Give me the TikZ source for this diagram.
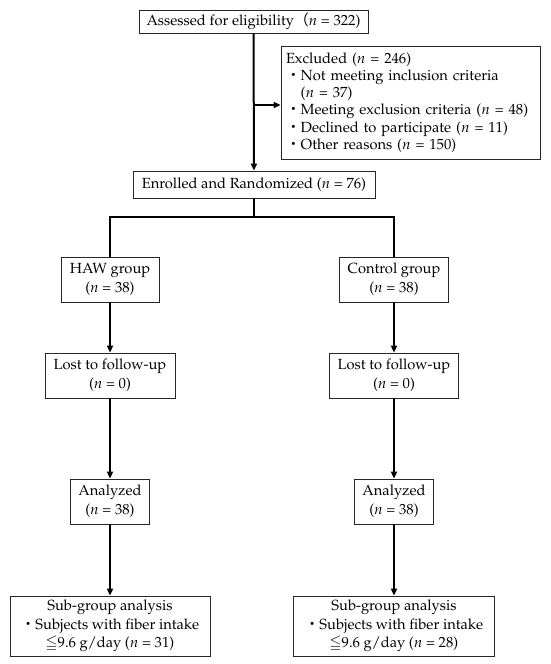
\documentclass[tikz,border=0pt]{standalone}
\usepackage{amsmath,amssymb}
\usepackage{fontspec}
\newfontfamily\cjk{Noto Sans CJK JP}
\usepackage[T1]{fontenc}
\usepackage{mathpazo}
\usepackage{tikz}
\usetikzlibrary{arrows.meta}
\usetikzlibrary{positioning}

\tikzset{
  box/.style={draw=black!85, line width=0.8pt, fill=white, align=center,
    inner sep=2pt, font=\fontsize{14.7}{18.6}\selectfont},
  flow/.style={line width=2pt, -{Triangle[length=7pt,width=6pt]}},
  link/.style={line width=2pt},
}
\newcommand{\ndot}{{\cjk ・}}

\begin{document}
\begin{tikzpicture}[x=1pt,y=-1pt]
  \useasboundingbox (0,0) rectangle (550,664);

  % top part
  \node[box, minimum width=229pt, minimum height=23pt] (assess) at (253.5,21.5)
    {Assessed for eligibility{\cjk （}$n$ = 322)};
  \node[box, minimum height=113pt, inner xsep=5pt, text width=249pt, align=left,
    font=\fontsize{14.7}{17.2}\selectfont] (exclud) at (410.5,102.5)
    {Excluded ($n$ = 246)\\
     \ndot Not meeting inclusion criteria\\
     \phantom{\ndot}($n$ = 37)\\
     \ndot Meeting exclusion criteria ($n$ = 48)\\
     \ndot Declined to participate ($n$ = 11)\\
     \ndot Other reasons ($n$ = 150)};
  \node[box, minimum width=242pt, minimum height=27pt] (enrol) at (254,184.5)
    {Enrolled and Randomized ($n$ = 76)};

  % two arms
  \node[box, minimum width=98pt, minimum height=45pt] (haw) at (110,279.5)
    {HAW group\\($n$ = 38)};
  \node[box, minimum width=109pt, minimum height=45pt] (ctrl) at (394,279.5)
    {Control group\\($n$ = 38)};
  \node[box, minimum width=130pt, minimum height=45pt] (hawlost) at (110,375.5)
    {Lost to follow-up\\($n$ = 0)};
  \node[box, minimum width=129pt, minimum height=45pt] (ctrllost) at (394,375.5)
    {Lost to follow-up\\($n$ = 0)};
  \node[box, minimum width=79pt, minimum height=45pt] (hawana) at (110,501.5)
    {Analyzed\\($n$ = 38)};
  \node[box, minimum width=79pt, minimum height=45pt] (ctrlana) at (394,501.5)
    {Analyzed\\($n$ = 38)};
  \node[box, minimum width=200pt, minimum height=60pt] (hawsub) at (110,626)
    {Sub-group analysis\\
     \ndot Subjects with fiber intake\\
     $\leqq$9.6 g/day ($n$ = 31)};
  \node[box, minimum width=201pt, minimum height=60pt] (ctrlsub) at (394,626)
    {Sub-group analysis\\
     \ndot Subjects with fiber intake\\
     $\leqq$9.6 g/day ($n$ = 28)};

  \coordinate (branch) at (254,105);
  \coordinate (split) at (254,217);

  \draw[flow] (assess) -- (enrol);
  \draw[flow] (branch) -- (exclud.west |- branch);
  \draw[link] (enrol) -- (split);
  \draw[link] (haw.north) |- (split) -| (ctrl.north);

  \draw[flow] (haw) -- (hawlost);
  \draw[flow] (hawlost) -- (hawana);
  \draw[flow] (hawana) -- (hawsub);
  \draw[flow] (ctrl) -- (ctrllost);
  \draw[flow] (ctrllost) -- (ctrlana);
  \draw[flow] (ctrlana) -- (ctrlsub);
\end{tikzpicture}
\end{document}
